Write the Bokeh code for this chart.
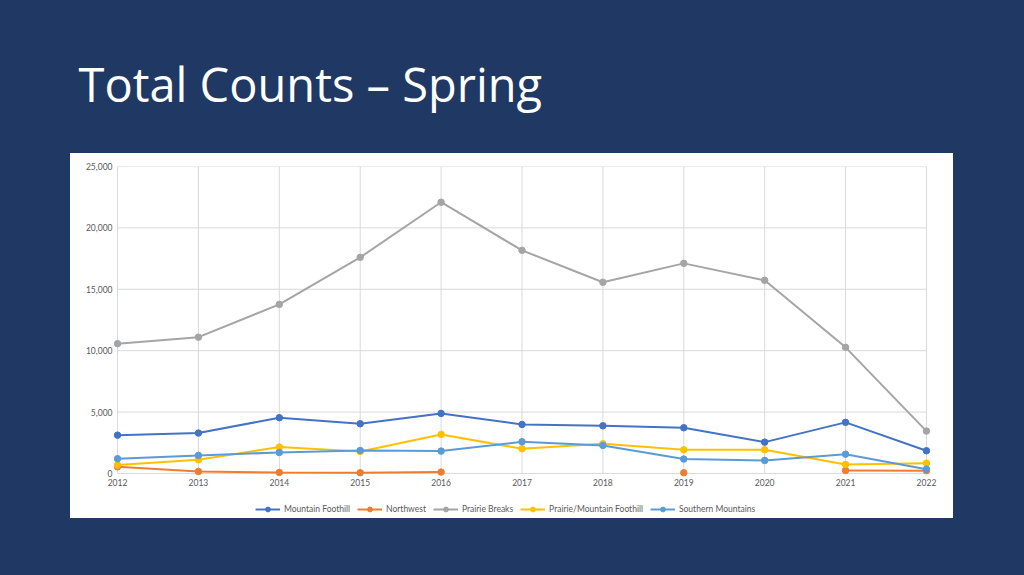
import math

from bokeh.core.properties import value
from bokeh.embed import file_html
from bokeh.layouts import column
from bokeh.models import FixedTicker, Legend, LegendItem, NumeralTickFormatter, Range1d
from bokeh.plotting import figure
from bokeh.resources import INLINE

NAN = math.nan

# 年ごとのカウント (春)
years = [2012, 2013, 2014, 2015, 2016, 2017, 2018, 2019, 2020, 2021, 2022]
mountain_foothill = [3120, 3290, 4540, 4050, 4890, 3990, 3880, 3720, 2550, 4160, 1850]
northwest = [540, 160, 80, 55, 110, NAN, NAN, 60, NAN, 245, 220]
prairie_breaks = [10570, 11100, 13770, 17600, 22090, 18170, 15570, 17110, 15730, 10270, 3450]
prairie_mountain = [680, 1110, 2150, 1790, 3180, 2010, 2420, 1930, 1930, 730, 840]
southern_mountains = [1200, 1470, 1710, 1870, 1820, 2580, 2280, 1170, 1060, 1570, 350]

y_ticks = [0, 5000, 10000, 15000, 20000, 25000]

series = [
    ("Mountain Foothill", mountain_foothill, "#4472C4"),
    ("Northwest", northwest, "#ED7D31"),
    ("Prairie Breaks", prairie_breaks, "#A5A5A5"),
    ("Prairie/Mountain Foothill", prairie_mountain, "#FFC000"),
    ("Southern Mountains", southern_mountains, "#5B9BD5"),
]

NAVY = "#203864"
TEXT = "#595959"
GRID = "#D9D9D9"
FONT_SIZE = "8.5px"

# タイトル部分 (columnの中では枠の左右がグラフと揃えられるので、範囲を画面の位置に合わせる)
t = figure(width=1024, height=153, x_range=Range1d(43, 1001), y_range=Range1d(0, 153),
           x_axis_location=None, y_axis_location=None,
           toolbar_location=None, output_backend="svg",
           min_border_left=0, min_border_right=0, min_border_top=0, min_border_bottom=0,
           border_fill_color=NAVY, background_fill_color=NAVY, outline_line_color=None)
t.grid.visible = False
t.text(x=[78], y=[70], text=["Total Counts \u2013 Spring"], text_color="white",
       text_font=value("Open Sans"), text_font_size="47px", text_baseline="middle")

# グラフ本体 (白い地は要素の背景で塗る)
x_range = Range1d(2011.95, 2022.05)
p = figure(width=883, height=340, x_range=x_range, y_range=Range1d(-330, 25000),
           toolbar_location=None, output_backend="svg",
           min_border_left=43, min_border_right=23, min_border_top=13, min_border_bottom=16,
           border_fill_alpha=0, background_fill_alpha=0, outline_line_color=None,
           margin=(0, 71, 0, 70), styles={"background-color": "white"})
p.grid.visible = False

# 目盛り線 (2012-2022の範囲だけ)
p.segment(x0=[years[0]] * len(y_ticks), x1=[years[-1]] * len(y_ticks), y0=y_ticks, y1=y_ticks,
          line_color=GRID, line_width=1, level="underlay")
p.segment(x0=years, x1=years, y0=[y_ticks[0]] * len(years), y1=[y_ticks[-1]] * len(years),
          line_color=GRID, line_width=1, level="underlay")

# 凡例用の図 (線は枠の外に出して、凡例の記号だけを見せる)
lg = figure(width=883, height=25, x_range=x_range, y_range=Range1d(30000, 40000),
            x_axis_location=None, y_axis_location=None,
            toolbar_location=None, output_backend="svg",
            min_border_left=0, min_border_right=0, min_border_top=0, min_border_bottom=0,
            border_fill_alpha=0, background_fill_alpha=0, outline_line_color=None,
            margin=(0, 71, 57, 70), styles={"background-color": "white"})
lg.grid.visible = False

items = []
for name, vals, color in series:
    p.line(years, vals, line_color=color, line_width=2)
    p.scatter(years, vals, size=6.5, fill_color=color, line_color=color)
    k1 = lg.line(years, vals, line_color=color, line_width=2)
    k2 = lg.scatter(years, vals, size=6.5, fill_color=color, line_color=color)
    items.append(LegendItem(label=name, renderers=[k1, k2]))

p.xaxis.ticker = FixedTicker(ticks=years)
p.yaxis.ticker = FixedTicker(ticks=y_ticks)
p.yaxis.formatter = NumeralTickFormatter(format="0,0")
for ax in p.xaxis + p.yaxis:
    ax.axis_line_color = None
    ax.major_tick_line_color = None
    ax.minor_tick_line_color = None
    ax.major_tick_out = 0
    ax.minor_tick_out = 0
    ax.major_label_text_font = "Lato"
    ax.major_label_text_font_size = FONT_SIZE
    ax.major_label_text_color = TEXT
    ax.major_label_standoff = 1

legend = Legend(items=items, orientation="horizontal", location=(142, 3),
                label_text_font="Lato", label_text_font_size=FONT_SIZE, label_text_color=TEXT,
                glyph_width=25, glyph_height=12, label_standoff=4, spacing=7,
                padding=2, margin=0, border_line_color=None, background_fill_alpha=0)
lg.add_layout(legend, "center")

layout = column(t, p, lg, styles={"background-color": NAVY}, width=1024, height=575)

open("out.html", "w").write(file_html(layout, INLINE))
